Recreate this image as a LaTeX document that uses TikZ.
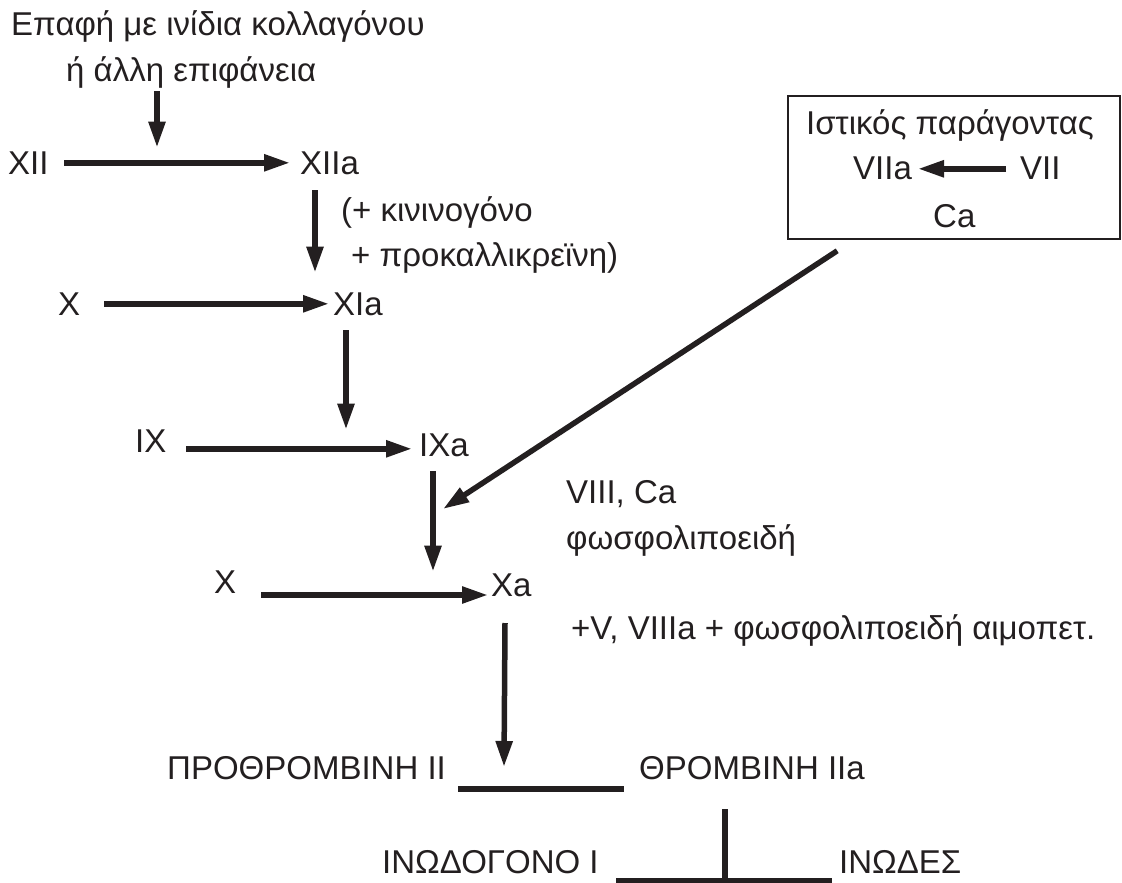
\documentclass[tikz,border=0pt]{standalone}
\usepackage{fontspec}
\setmainfont{Liberation Sans}
\usetikzlibrary{arrows.meta,calc,positioning}
\definecolor{cascadeink}{HTML}{231F20}
\tikzset{
  every picture/.style={font=\fontsize{33}{40}\selectfont,text=cascadeink},
  term/.style={inner sep=0pt,anchor=south west,text height=24pt,text depth=0pt},
  flow/.style={draw=cascadeink,line width=5.5pt,
    -{Triangle[length=26pt,width=16pt]}},
  bar/.style={draw=cascadeink,line width=5.5pt},
  factorbox/.style={draw=cascadeink,line width=1.6pt,inner sep=0pt,
    minimum width=332pt,minimum height=143pt},
}
\begin{document}
\begin{tikzpicture}[x=1pt,y=-1pt]
  \useasboundingbox (0,0) rectangle (1122,883);
  % intrinsic pathway
  \node[term] (contact) at (11,36) {Επαφή με ινίδια κολλαγόνου};
  \node[term] (surface) at (66,82) {ή άλλη επιφάνεια};
  \node[term] (XII) at (8,175) {XII};
  \node[term] (XIIa) at (300,175) {XIIa};
  \node[term] (kinin) at (341,222) {(+ κινινογόνο};
  \node[term] (prekal) at (351,267) {+ προκαλλικρεϊνη)};
  \node[term] (XI) at (58,316) {X};
  \node[term] (XIa) at (333,316) {XIa};
  \node[term] (IX) at (135,453) {IX};
  \node[term] (IXa) at (419,457) {IXa};
  \node[term] (VIIIca) at (566,504) {VIII, Ca};
  \node[term] (phospho) at (566,550) {φωσφολιποειδή};
  \node[term] (X) at (214,594) {X};
  \node[term] (Xa) at (491,597) {Xa};
  \node[term] (cofact) at (571,640) {+V, VIIIa + φωσφολιποειδή αιμοπετ.};
  \node[term] (prothr) at (167,780) {ΠΡΟΘΡΟΜΒΙΝΗ II};
  \node[term] (thromb) at (639,780) {ΘΡΟΜΒΙΝΗ IIa};
  \node[term] (fibgen) at (382,874) {ΙΝΩΔΟΓΟΝΟ I};
  \node[term] (fibrin) at (839,874) {ΙΝΩΔΕΣ};
  % extrinsic pathway
  \node[factorbox] (tissuebox) at (954,167.5) {};
  \node[term] (tissue) at (806,135) {Ιστικός παράγοντας};
  \node[term] (VIIa) at (853,180) {VIIa};
  \node[term] (VII) at (1020,180) {VII};
  \node[term] (Ca) at (933,228) {Ca};
  % connectors
  \draw[flow] ($(surface.south west)+(91,9)$) -- ($(XII.north west)+(149,-3)$);
  \draw[flow] ($(XII.west)+(56,0)$) -- ($(XIIa.west)+(-10,0)$);
  \draw[flow] ($(XIIa.south west)+(15,15)$) -- ($(XIa.north west)+(-18,-19)$);
  \draw[flow] ($(XI.west)+(46,0)$) -- ($(XIa.west)+(-4,0)$);
  \draw[flow] ($(XIa.south west)+(13,14)$) -- ($(IXa.north west)+(-73,-3)$);
  \draw[flow] ($(IX.west)+(51,8)$) -- ($(IXa.west)+(-7,4)$);
  \draw[flow] ($(IXa.south west)+(14,14)$) -- ($(Xa.north west)+(-58,-1)$);
  \draw[flow] ($(tissuebox.south west)+(50,11)$) -- ($(IXa.south west)+(24,52)$);
  \draw[flow] ($(X.south west)+(47,1)$) -- ($(Xa.south west)+(-3,-2)$);
  \draw[flow] ($(Xa.south west)+(14,26)$) -- ($(prothr.south west)+(337,-13)$);
  \draw[flow] ($(VII.west)+(-14,1)$) -- ($(VIIa.west)+(65,1)$);
  \draw[bar] ($(prothr.south west)+(291,9)$) -- ($(thromb.south west)+(-15,9)$);
  \draw[bar] ($(thromb.south west)+(86,29)$) -- ($(fibgen.south west)+(343,7)$);
  \draw[bar] ($(fibgen.south west)+(234,7)$) -- ($(fibrin.south west)+(-7,7)$);
\end{tikzpicture}
\end{document}
